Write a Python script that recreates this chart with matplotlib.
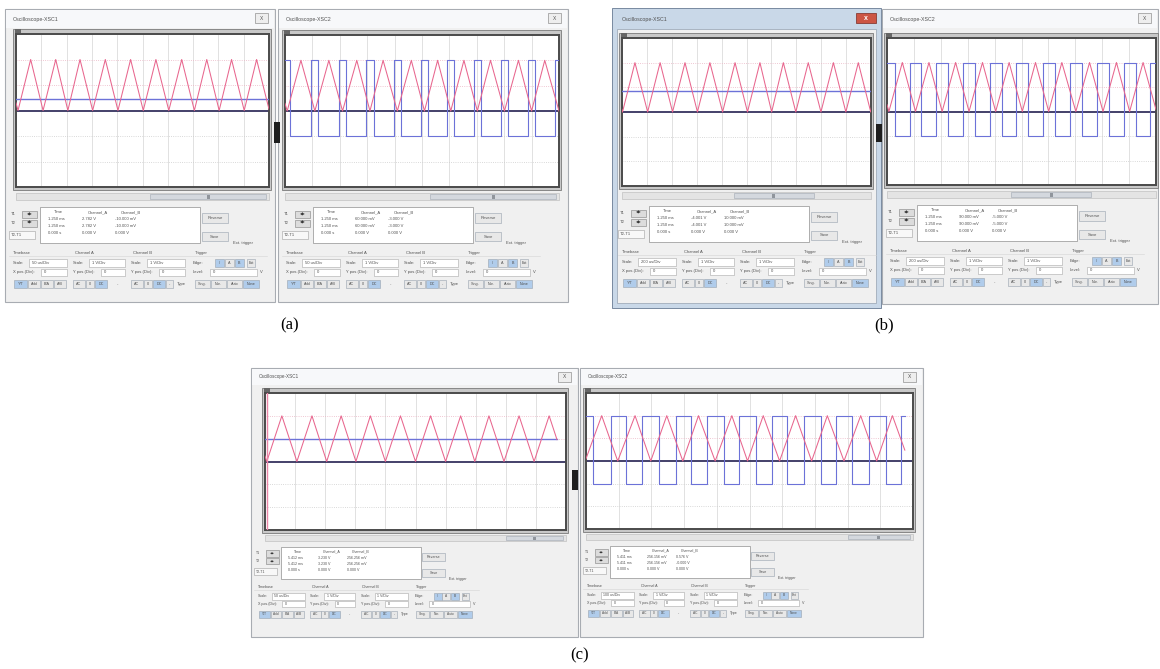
"""
Six Multisim oscilloscope screenshots (XSC1 / XSC2) for three cases (a), (b), (c).
Traces are drawn on a 10 x 6 division screen; the window chrome is drawn in pixels.
"""
import matplotlib
matplotlib.use("Agg")
import matplotlib.pyplot as plt
from matplotlib.patches import Rectangle

W, H = 1160, 669
plt.rcParams["font.family"] = ["Liberation Sans", "DejaVu Sans"]

# ---- trace data, read off the screens (divisions: 10 across, 6 up) ----
# triangle carrier vertices (bottom on div 3, top on div 5)
a1_tri_t = [0.0, 0.08, 0.58, 1.07, 1.57, 2.05, 2.53, 3.03, 3.53, 4.03, 4.53,
            5.03, 5.53, 6.04, 6.55, 7.05, 7.54, 8.03, 8.52, 9.02, 9.51, 10.0]
a1_tri_v = [3.3, 3, 5, 3, 5, 3, 5, 3, 5, 3, 5, 3, 5, 3, 5, 3, 5, 3, 5, 3, 5, 3.05]
a2_tri_t = [0.0, 0.08, 0.58, 1.09, 1.6, 2.1, 2.62, 3.1, 3.58, 4.1, 4.61,
            5.09, 5.57, 6.05, 6.53, 7.02, 7.5, 8.01, 8.52, 9.0, 9.48, 10.0]
a2_tri_v = [3.3, 3, 5, 3, 5, 3, 5, 3, 5, 3, 5, 3, 5, 3, 5, 3, 5, 3, 5, 3, 5, 3.0]
b1_tri_t = [0.0, 0.02, 0.52, 1.03, 1.53, 2.03, 2.53, 3.03, 3.53, 4.04, 4.54, 5.04,
            5.54, 6.01, 6.48, 6.98, 7.48, 7.99, 8.49, 8.99, 9.49, 9.99, 10.0]
b1_tri_v = [3.08, 3, 5, 3, 5, 3, 5, 3, 5, 3, 5, 3, 5, 3, 5, 3, 5, 3, 5, 3, 5, 3, 3.04]
b2_tri_t = [0.0, 0.07, 0.57, 1.06, 1.56, 2.05, 2.55, 3.05, 3.55, 4.04, 4.54,
            5.03, 5.52, 6.01, 6.5, 7.02, 7.53, 8.03, 8.53, 9.02, 9.52, 10.0]
b2_tri_v = [3.28, 3, 5, 3, 5, 3, 5, 3, 5, 3, 5, 3, 5, 3, 5, 3, 5, 3, 5, 3, 5, 3.08]
c1_tri_t = [0.0, 0.06, 0.56, 1.06, 1.56, 2.05, 2.53, 3.02, 3.5, 4.0, 4.5,
            5.0, 5.5, 6.0, 6.5, 6.97, 7.44, 7.94, 8.44, 8.94, 9.44, 9.7]
c1_tri_v = [3.24, 3, 5, 3, 5, 3, 5, 3, 5, 3, 5, 3, 5, 3, 5, 3, 5, 3, 5, 3, 5, 3.96]
c2_tri_t = [0.0, 0.48, 0.97, 1.5, 1.98, 2.47, 2.96, 3.44, 3.95, 4.46, 4.94,
            5.42, 5.92, 6.41, 6.9, 7.38, 7.89, 8.4, 8.89, 9.37, 9.75]
c2_tri_v = [3.1, 5, 3, 5, 3, 5, 3, 5, 3, 5, 3, 5, 3, 5, 3, 5, 3, 5, 3, 5, 3.48]

# DC reference (blue) on the XSC1 screens
a1_ref = 3.45
b1_ref = 3.85
c1_ref = 4.0

# PWM output (blue) on the XSC2 screens: intervals where it is high (div 5, low = div 2)
a2_pulses = [(0.0, 0.2), (0.96, 1.22), (1.97, 2.23), (2.97, 3.23), (3.97, 4.23), (4.96, 5.22),
             (5.92, 6.18), (6.89, 7.15), (7.88, 8.14), (8.87, 9.13), (9.85, 10.0)]
b2_pulses = [(0.0, 0.29), (0.84, 1.28), (1.83, 2.27), (2.83, 3.27), (3.82, 4.26), (4.81, 5.25),
             (5.79, 6.23), (6.8, 7.24), (7.81, 8.25), (8.8, 9.24), (9.78, 10.0)]
c2_pulses = [(0.0, 0.2), (0.76, 1.21), (1.72, 2.23), (2.74, 3.2), (3.7, 4.22), (4.68, 5.19),
             (5.7, 6.16), (6.67, 7.18), (7.64, 8.14), (8.65, 9.17), (9.62, 9.75)]

# cursor readouts (Time, Channel_A, Channel_B) and scale settings
a1_read = [["1.250 ms", "1.250 ms", "0.000 s"], ["2.782 V", "2.782 V", "0.000 V"],
           ["-10.000 mV", "-10.000 mV", "0.000 V"]]
a2_read = [["1.250 ms", "1.250 ms", "0.000 s"], ["60.000 mV", "60.000 mV", "0.000 V"],
           ["-3.000 V", "-3.000 V", "0.000 V"]]
b1_read = [["1.250 ms", "1.250 ms", "0.000 s"], ["-4.001 V", "-4.001 V", "0.000 V"],
           ["10.000 mV", "10.000 mV", "0.000 V"]]
b2_read = [["1.250 ms", "1.250 ms", "0.000 s"], ["90.000 mV", "90.000 mV", "0.000 V"],
           ["-5.000 V", "-5.000 V", "0.000 V"]]
c1_read = [["5.412 ms", "5.412 ms", "0.000 s"], ["3.230 V", "3.230 V", "0.000 V"],
           ["256.256 mV", "256.256 mV", "0.000 V"]]
c2_read = [["5.411 ms", "5.411 ms", "0.000 s"], ["256.156 mV", "256.156 mV", "0.000 V"],
           ["0.576 V", "-0.000 V", "0.000 V"]]
a_scales = ["50 us/Div", "1 V/Div", "1 V/Div"]
b_scales = ["200 us/Div", "1 V/Div", "1 V/Div"]
c1_scales = ["50 us/Div", "1 V/Div", "1 V/Div"]
c2_scales = ["100 us/Div", "1 V/Div", "1 V/Div"]

TXT = "#505050"
RED = "#e8668e"
BLUE = "#6c72d8"
DARK = "#35325e"


def rect(ax, x0, y0, x1, y1, fc, ec="none", lw=0.5, z=1):
    ax.add_patch(Rectangle((x0, y0), x1 - x0, y1 - y0, facecolor=fc,
                           edgecolor=ec, linewidth=lw, zorder=z))


def btn(ax, x0, y0, x1, y1, label, fs, on=False):
    rect(ax, x0, y0, x1, y1, "#b0cceb" if on else "#e8e8e8", "#98a2ae", 0.4, z=3)
    ax.text((x0 + x1) / 2, (y0 + y1) / 2, label, fontsize=fs, ha="center",
            va="center", color=TXT, zorder=4)


def square_line(pulses, t_end, lo=2.0, hi=5.0):
    t, v = [], []
    if pulses[0][0] > 0:
        t, v = [0.0], [lo]
    for s, e in pulses:
        if s > 0:
            t += [s, s]
            v += [lo, hi]
        else:
            t.append(s)
            v.append(hi)
        if e < t_end:
            t += [e, e]
            v += [hi, lo]
        else:
            t.append(e)
            v.append(hi)
    if t[-1] < t_end:
        t.append(t_end)
        v.append(lo)
    return t, v


def scope(fig, box, tri_t, tri_v, ref=None, ref_end=10.0, pulses=None,
          t_end=10.0, cursor=False):
    x0, y0, x1, y1 = box
    ax = fig.add_axes([x0 / W, 1 - y1 / H, (x1 - x0) / W, (y1 - y0) / H])
    ax.set_xlim(0, 10)
    ax.set_ylim(0, 6)
    ax.set_xticks([])
    ax.set_yticks([])
    ax.set_facecolor("white")
    for sp in ax.spines.values():
        sp.set_color("#4a4a4a")
        sp.set_linewidth(1.4)
    for gx in range(1, 10):
        ax.axvline(gx, color="#dcdcdc", lw=0.6)
    for gy in (4, 5):
        ax.axhline(gy, color="#eab4c4", lw=0.6, ls=":")
    for gy in (1, 2):
        ax.axhline(gy, color="#cccccc", lw=0.6, ls=":")
    ax.axhline(3.0, color=DARK, lw=1.3, zorder=2)
    if pulses is not None:
        st, sv = square_line(pulses, t_end)
        ax.plot(st, sv, color=BLUE, lw=0.8, zorder=3)
    ax.plot(tri_t, tri_v, color=RED, lw=0.75, zorder=4)
    if ref is not None:
        ax.plot([0, ref_end], [ref, ref], color=BLUE, lw=1.0, zorder=3)
    if cursor:
        ax.axvline(0.06, color="#ec86a8", lw=1.0, zorder=5)
    return ax


def window(bg, frame, box, title, s, read, scales, thumb, active=False):
    wx0, wy0, wx1, wy1 = frame
    bx0, by0, bx1, by1 = box
    X = lambda d: wx0 + d * s
    Y = lambda d: by1 + d * s
    fs = 3.0 * s

    if active:
        rect(bg, wx0 - 2, wy0 - 1, wx1 + 1, wy1 + 2, "#c9d8e8", "#7889a0", 0.7)
        rect(bg, wx0 + 3, wy0 + 20, wx1 - 4, wy1 - 3, "#f0f0f0", "#95a1b0", 0.5)
        rect(bg, wx1 - 24, wy0 + 4, wx1 - 4, wy0 + 14, "#cc5544", "#7a2a22", 0.5)
        bg.text(wx1 - 14, wy0 + 9, "x", fontsize=5, ha="center", va="center",
                color="white", fontweight="bold")
    else:
        rect(bg, wx0, wy0, wx1, wy1, "#f0f0f0", "#a8acb2", 0.8)
        rect(bg, wx0 + 1, wy0 + 1, wx1 - 1, wy0 + 19 * s, "#f7f8fa")
        rect(bg, wx1 - 20, wy0 + 4, wx1 - 7, wy0 + 14, "#eeeeee", "#929292", 0.5)
        bg.text(wx1 - 13.5, wy0 + 9, "X", fontsize=3.5, ha="center", va="center",
                color=TXT)
    bg.text(wx0 + 8, wy0 + 10 * s, title, fontsize=3.8 * s, va="center", color=TXT)

    # plot frame and top strip
    rect(bg, bx0 - 3, by0 - 5, bx1 + 2, by1 + 3, "#c8c8c8", "#7a7a7a", 0.6)
    rect(bg, bx0 - 1, by0 - 5, bx0 + 5, by0 - 1, "#666666", z=2)

    # horizontal scroll bar
    rect(bg, bx0, Y(6), bx1, Y(13), "#e4e4e4", "#b8b8b8", 0.4)
    tx0 = bx0 + thumb[0] * (bx1 - bx0)
    tx1 = bx0 + thumb[1] * (bx1 - bx0)
    rect(bg, tx0, Y(7), tx1, Y(12), "#d4d8de", "#a0a8b2", 0.4, z=2)
    rect(bg, (tx0 + tx1) / 2 - 1.5, Y(7.5), (tx0 + tx1) / 2 + 1.5, Y(11.5), "#90959c", z=3)

    # cursor block
    for i, lab in enumerate(["T1", "T2"]):
        bg.text(X(6), Y(27 + 9 * i), lab, fontsize=fs, va="center", color=TXT)
        rect(bg, X(17), Y(23.5 + 9 * i), X(32), Y(30.5 + 9 * i), "#dcdcdc", "#808080", 0.4)
        bg.text(X(24.5), Y(27 + 9 * i), "\u25c0\u25b6", fontsize=fs * 0.9, ha="center",
                va="center", color="#383838", family="DejaVu Sans")
    rect(bg, X(4), Y(44), X(30), Y(52), "#f8f8f8", "#a0a0a0", 0.4)
    bg.text(X(6), Y(48), "T2-T1", fontsize=fs, va="center", color=TXT)

    rect(bg, X(35), Y(20), X(195), Y(56), "white", "#909090", 0.5)
    heads = ["Time", "Channel_A", "Channel_B"]
    for j, xo in enumerate([43, 77, 110]):
        bg.text(X(xo + 6), Y(25), heads[j], fontsize=fs, va="center", color=TXT)
        for k in range(3):
            bg.text(X(xo), Y(32 + 7 * k), read[j][k], fontsize=fs, va="center", color=TXT)

    btn(bg, X(197), Y(26), X(223), Y(36), "Reverse", fs)
    btn(bg, X(197), Y(45), X(223), Y(54), "Save", fs)
    bg.text(X(228), Y(56), "Ext. trigger", fontsize=fs, va="center", color=TXT)

    # settings groups
    for lab, xo in [("Timebase", 8), ("Channel A", 70), ("Channel B", 128), ("Trigger", 190)]:
        bg.text(X(xo), Y(66), lab, fontsize=fs, va="center", color=TXT)
    bg.plot([X(4), X(262)], [Y(69), Y(69)], color="#d4d4d4", lw=0.4)

    for lab, xo, b0, b1_, val in [("Scale:", 8, 24, 62, scales[0]),
                                  ("Scale:", 68, 84, 120, scales[1]),
                                  ("Scale:", 126, 142, 180, scales[2])]:
        bg.text(X(xo), Y(76), lab, fontsize=fs, va="center", color=TXT)
        rect(bg, X(b0), Y(72), X(b1_), Y(80), "white", "#a8a8a8", 0.4)
        bg.text(X(b0 + 3), Y(76), val, fontsize=fs, va="center", color=TXT)
    bg.text(X(188), Y(76), "Edge:", fontsize=fs, va="center", color=TXT)
    for (b0, b1_, lab, on) in [(210, 219, "/", True), (220, 229, "A", False),
                               (230, 239, "B", True), (242, 250, "Ext", False)]:
        btn(bg, X(b0), Y(72), X(b1_), Y(80), lab, fs * 0.9, on)

    for lab, xo, b0, b1_ in [("X pos.(Div):", 8, 36, 62), ("Y pos.(Div):", 68, 96, 120),
                             ("Y pos.(Div):", 126, 154, 180)]:
        bg.text(X(xo), Y(85), lab, fontsize=fs, va="center", color=TXT)
        rect(bg, X(b0), Y(81.5), X(b1_), Y(88.5), "white", "#a8a8a8", 0.4)
        bg.text(X(b0 + 3), Y(85), "0", fontsize=fs, va="center", color=TXT)
    bg.text(X(188), Y(85), "Level:", fontsize=fs, va="center", color=TXT)
    rect(bg, X(205), Y(81.5), X(252), Y(88.5), "white", "#a8a8a8", 0.4)
    bg.text(X(208), Y(85), "0", fontsize=fs, va="center", color=TXT)
    bg.text(X(255), Y(85), "V", fontsize=fs, va="center", color=TXT)

    row = [(9, 22, "Y/T", True), (23, 35, "Add", False), (36, 48, "B/A", False),
           (49, 61, "A/B", False), (68, 80, "AC", False), (81, 89, "0", False),
           (90, 102, "DC", True), (126, 138, "AC", False), (139, 147, "0", False),
           (148, 160, "DC", True), (161, 168, "-", False), (190, 205, "Sing.", False),
           (206, 221, "Nor.", False), (222, 237, "Auto", False), (238, 254, "None", True)]
    for b0, b1_, lab, on in row:
        btn(bg, X(b0), Y(93), X(b1_), Y(101), lab, fs * 0.9, on)
    bg.text(X(112), Y(97), "-", fontsize=fs, va="center", color=TXT)
    bg.text(X(172), Y(97), "Type", fontsize=fs, va="center", color=TXT)


fig = plt.figure(figsize=(W / 100, H / 100), dpi=100)
fig.patch.set_facecolor("white")
bg = fig.add_axes([0, 0, 1, 1])
bg.set_xlim(0, W)
bg.set_ylim(H, 0)
bg.axis("off")

# window frame, plot box, title, scale, readouts, scales, scroll thumb
wins = [
    ((5, 9, 275, 302), (16, 34, 269, 187), "Oscilloscope-XSC1", 1.0, a1_read, a_scales, (0.53, 0.99), False),
    ((278, 9, 568, 302), (285, 35, 559, 187), "Oscilloscope-XSC2", 1.0, a2_read, a_scales, (0.53, 0.99), False),
    ((614, 9, 880, 306), (622, 38, 871, 186), "Oscilloscope-XSC1", 1.0, b1_read, b_scales, (0.45, 0.77), True),
    ((882, 9, 1158, 304), (887, 38, 1156, 185), "Oscilloscope-XSC2", 1.0, b2_read, b_scales, (0.46, 0.76), False),
    ((251, 368, 578, 637), (265, 393, 566, 530), "Oscilloscope-XSC1", 0.87, c1_read, c1_scales, (0.8, 0.99), False),
    ((580, 368, 923, 637), (586, 393, 913, 529), "Oscilloscope-XSC2", 0.87, c2_read, c2_scales, (0.8, 0.99), False),
]
for frame, box, title, s, read, scales, thumb, active in wins:
    window(bg, frame, box, title, s, read, scales, thumb, active)

# dark grips between the paired windows
for gx0, gy0, gx1, gy1 in [(274, 122, 280, 143), (876, 124, 882, 142), (572, 470, 578, 490)]:
    rect(bg, gx0, gy0, gx1, gy1, "#1e1e1e", z=5)

scope(fig, wins[0][1], a1_tri_t, a1_tri_v, ref=a1_ref)
scope(fig, wins[1][1], a2_tri_t, a2_tri_v, pulses=a2_pulses)
scope(fig, wins[2][1], b1_tri_t, b1_tri_v, ref=b1_ref)
scope(fig, wins[3][1], b2_tri_t, b2_tri_v, pulses=b2_pulses)
scope(fig, wins[4][1], c1_tri_t, c1_tri_v, ref=c1_ref, ref_end=9.7, cursor=True)
scope(fig, wins[5][1], c2_tri_t, c2_tri_v, pulses=c2_pulses, t_end=9.75)

for lab, x, y in [("(a)", 290, 325), ("(b)", 884, 325), ("(c)", 580, 655)]:
    bg.text(x, y, lab, fontsize=12, ha="center", va="center",
            family="Liberation Serif", color="black")

fig.savefig("out.png", dpi=100)
